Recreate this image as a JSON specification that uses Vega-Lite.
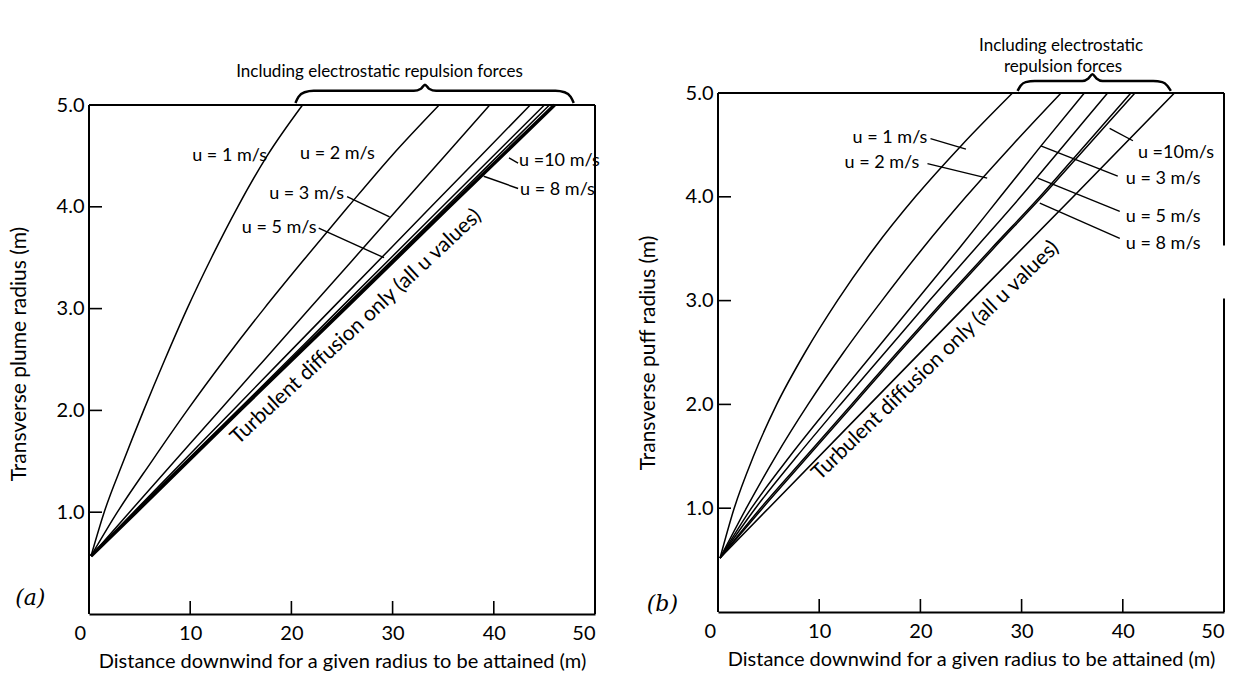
{
  "$schema": "https://vega.github.io/schema/vega-lite/v6.json",
  "padding": {"left": 8, "top": 37, "right": 5, "bottom": 0},
  "spacing": 123,
  "bounds": "flush",
  "config": {
    "view": {"stroke": null},
    "font": "Lato",
    "text": {"font": "Lato", "color": "black"},
    "axis": {
      "grid": false,
      "ticks": false,
      "labelFont": "Lato",
      "titleFont": "Lato",
      "labelColor": "black",
      "titleColor": "black",
      "domainColor": "black",
      "labelFontSize": 20,
      "titleFontSize": 20,
      "titleFontWeight": "normal",
      "domainWidth": 2
    }
  },
  "datasets": {
    "curvesA": [
      {"series": "u1", "x": 0.2, "y": 0.57}, {"series": "u1", "x": 1.5, "y": 1.0}, {"series": "u1", "x": 3.4, "y": 1.5}, {"series": "u1", "x": 5.4, "y": 2.0}, {"series": "u1", "x": 7.5, "y": 2.5}, {"series": "u1", "x": 9.7, "y": 3.0}, {"series": "u1", "x": 12.1, "y": 3.5}, {"series": "u1", "x": 14.7, "y": 4.0}, {"series": "u1", "x": 17.6, "y": 4.5}, {"series": "u1", "x": 21.1, "y": 5.0},
      {"series": "u2", "x": 0.2, "y": 0.57}, {"series": "u2", "x": 2.8, "y": 1.0}, {"series": "u2", "x": 6.2, "y": 1.5}, {"series": "u2", "x": 9.7, "y": 2.0}, {"series": "u2", "x": 13.4, "y": 2.5}, {"series": "u2", "x": 17.3, "y": 3.0}, {"series": "u2", "x": 21.4, "y": 3.5}, {"series": "u2", "x": 25.6, "y": 4.0}, {"series": "u2", "x": 29.9, "y": 4.5}, {"series": "u2", "x": 34.6, "y": 5.0},
      {"series": "u3", "x": 0.2, "y": 0.57}, {"series": "u3", "x": 4.0, "y": 1.0}, {"series": "u3", "x": 12.9, "y": 2.0}, {"series": "u3", "x": 21.8, "y": 3.0}, {"series": "u3", "x": 30.7, "y": 4.0}, {"series": "u3", "x": 39.6, "y": 5.0},
      {"series": "u5", "x": 0.2, "y": 0.57}, {"series": "u5", "x": 4.4, "y": 1.0}, {"series": "u5", "x": 14.2, "y": 2.0}, {"series": "u5", "x": 24.0, "y": 3.0}, {"series": "u5", "x": 33.8, "y": 4.0}, {"series": "u5", "x": 43.6, "y": 5.0},
      {"series": "u8", "x": 0.2, "y": 0.57}, {"series": "u8", "x": 4.5, "y": 1.0}, {"series": "u8", "x": 14.7, "y": 2.0}, {"series": "u8", "x": 24.8, "y": 3.0}, {"series": "u8", "x": 34.9, "y": 4.0}, {"series": "u8", "x": 45.0, "y": 5.0},
      {"series": "u10", "x": 0.2, "y": 0.57}, {"series": "u10", "x": 4.6, "y": 1.0}, {"series": "u10", "x": 14.8, "y": 2.0}, {"series": "u10", "x": 25.1, "y": 3.0}, {"series": "u10", "x": 35.3, "y": 4.0}, {"series": "u10", "x": 45.5, "y": 5.0},
      {"series": "turbulent", "x": 0.2, "y": 0.57}, {"series": "turbulent", "x": 4.65, "y": 1.0}, {"series": "turbulent", "x": 14.9, "y": 2.0}, {"series": "turbulent", "x": 25.3, "y": 3.0}, {"series": "turbulent", "x": 35.6, "y": 4.0}, {"series": "turbulent", "x": 46.0, "y": 5.0}
    ],
    "curvesB": [
      {"series": "u1", "x": 0.2, "y": 0.52}, {"series": "u1", "x": 1.6, "y": 1.0}, {"series": "u1", "x": 3.5, "y": 1.5}, {"series": "u1", "x": 5.8, "y": 2.0}, {"series": "u1", "x": 8.6, "y": 2.5}, {"series": "u1", "x": 11.8, "y": 3.0}, {"series": "u1", "x": 15.4, "y": 3.5}, {"series": "u1", "x": 19.5, "y": 4.0}, {"series": "u1", "x": 24.1, "y": 4.5}, {"series": "u1", "x": 29.1, "y": 5.0},
      {"series": "u2", "x": 0.2, "y": 0.52}, {"series": "u2", "x": 2.8, "y": 1.0}, {"series": "u2", "x": 5.7, "y": 1.5}, {"series": "u2", "x": 8.9, "y": 2.0}, {"series": "u2", "x": 12.4, "y": 2.5}, {"series": "u2", "x": 16.2, "y": 3.0}, {"series": "u2", "x": 20.2, "y": 3.5}, {"series": "u2", "x": 24.5, "y": 4.0}, {"series": "u2", "x": 29.1, "y": 4.5}, {"series": "u2", "x": 33.9, "y": 5.0},
      {"series": "u3", "x": 0.2, "y": 0.52}, {"series": "u3", "x": 3.3, "y": 1.0}, {"series": "u3", "x": 7.1, "y": 1.5}, {"series": "u3", "x": 11.2, "y": 2.0}, {"series": "u3", "x": 15.4, "y": 2.5}, {"series": "u3", "x": 19.6, "y": 3.0}, {"series": "u3", "x": 23.8, "y": 3.5}, {"series": "u3", "x": 27.9, "y": 4.0}, {"series": "u3", "x": 32.0, "y": 4.5}, {"series": "u3", "x": 36.2, "y": 5.0},
      {"series": "u5", "x": 0.2, "y": 0.52}, {"series": "u5", "x": 3.7, "y": 1.0}, {"series": "u5", "x": 7.8, "y": 1.5}, {"series": "u5", "x": 12.1, "y": 2.0}, {"series": "u5", "x": 16.5, "y": 2.5}, {"series": "u5", "x": 20.9, "y": 3.0}, {"series": "u5", "x": 25.4, "y": 3.5}, {"series": "u5", "x": 29.9, "y": 4.0}, {"series": "u5", "x": 34.2, "y": 4.5}, {"series": "u5", "x": 38.5, "y": 5.0},
      {"series": "u8", "x": 0.2, "y": 0.52}, {"series": "u8", "x": 4.2, "y": 1.0}, {"series": "u8", "x": 8.7, "y": 1.5}, {"series": "u8", "x": 13.2, "y": 2.0}, {"series": "u8", "x": 17.7, "y": 2.5}, {"series": "u8", "x": 22.3, "y": 3.0}, {"series": "u8", "x": 27.0, "y": 3.5}, {"series": "u8", "x": 31.8, "y": 4.0}, {"series": "u8", "x": 36.3, "y": 4.5}, {"series": "u8", "x": 40.8, "y": 5.0},
      {"series": "u10", "x": 0.2, "y": 0.52}, {"series": "u10", "x": 4.4, "y": 1.0}, {"series": "u10", "x": 8.9, "y": 1.5}, {"series": "u10", "x": 13.4, "y": 2.0}, {"series": "u10", "x": 17.9, "y": 2.5}, {"series": "u10", "x": 22.5, "y": 3.0}, {"series": "u10", "x": 27.2, "y": 3.5}, {"series": "u10", "x": 32.0, "y": 4.0}, {"series": "u10", "x": 36.6, "y": 4.5}, {"series": "u10", "x": 41.2, "y": 5.0},
      {"series": "turbulent", "x": 0.2, "y": 0.52}, {"series": "turbulent", "x": 5.0, "y": 1.0}, {"series": "turbulent", "x": 15.0, "y": 2.0}, {"series": "turbulent", "x": 25.0, "y": 3.0}, {"series": "turbulent", "x": 35.1, "y": 4.0}, {"series": "turbulent", "x": 45.1, "y": 5.0}
    ],
    "labelsA": [
      {"text": "u = 1 m/s", "x": 10.2, "y": 4.5},
      {"text": "u = 2 m/s", "x": 20.85, "y": 4.52},
      {"text": "u = 3 m/s", "x": 17.8, "y": 4.13},
      {"text": "u = 5 m/s", "x": 15.1, "y": 3.79},
      {"text": "u =10 m/s", "x": 42.5, "y": 4.45},
      {"text": "u = 8 m/s", "x": 42.6, "y": 4.17}
    ],
    "labelsB": [
      {"text": "u = 1 m/s", "x": 13.3, "y": 4.57},
      {"text": "u = 2 m/s", "x": 12.5, "y": 4.33},
      {"text": "u =10m/s", "x": 41.5, "y": 4.42},
      {"text": "u = 3 m/s", "x": 40.3, "y": 4.17},
      {"text": "u = 5 m/s", "x": 40.3, "y": 3.81},
      {"text": "u = 8 m/s", "x": 40.3, "y": 3.55}
    ],
    "pointersA": [
      {"x": 25.5, "y": 4.10, "x2": 29.7, "y2": 3.90},
      {"x": 22.7, "y": 3.79, "x2": 29.15, "y2": 3.50},
      {"x": 41.5, "y": 4.48, "x2": 42.4, "y2": 4.43},
      {"x": 39.0, "y": 4.30, "x2": 42.4, "y2": 4.18}
    ],
    "pointersB": [
      {"x": 21.0, "y": 4.56, "x2": 24.5, "y2": 4.46},
      {"x": 20.7, "y": 4.32, "x2": 26.6, "y2": 4.18},
      {"x": 38.7, "y": 4.66, "x2": 41.0, "y2": 4.54},
      {"x": 31.9, "y": 4.49, "x2": 39.5, "y2": 4.20},
      {"x": 31.6, "y": 4.18, "x2": 39.7, "y2": 3.86},
      {"x": 31.8, "y": 3.94, "x2": 39.7, "y2": 3.60}
    ],
    "braceA": [
      {"x": 20.4, "y": 5.02}, {"x": 20.7, "y": 5.08}, {"x": 21.3, "y": 5.125}, {"x": 22.2, "y": 5.14}, {"x": 32.1, "y": 5.14}, {"x": 32.8, "y": 5.16}, {"x": 33.2, "y": 5.2}, {"x": 33.6, "y": 5.16}, {"x": 34.3, "y": 5.14}, {"x": 46.1, "y": 5.14}, {"x": 47.0, "y": 5.125}, {"x": 47.6, "y": 5.08}, {"x": 47.9, "y": 5.02}
    ],
    "braceB": [
      {"x": 29.6, "y": 5.02}, {"x": 29.9, "y": 5.07}, {"x": 30.4, "y": 5.105}, {"x": 31.3, "y": 5.115}, {"x": 36.0, "y": 5.115}, {"x": 36.6, "y": 5.14}, {"x": 37.0, "y": 5.18}, {"x": 37.4, "y": 5.14}, {"x": 38.0, "y": 5.115}, {"x": 43.0, "y": 5.115}, {"x": 43.9, "y": 5.105}, {"x": 44.4, "y": 5.07}, {"x": 44.75, "y": 5.02}
    ],
    "frameA": [
      {"x": 0, "y": 0, "x2": 0, "y2": 5},
      {"x": 0, "y": 5, "x2": 50, "y2": 5},
      {"x": 50, "y": 0, "x2": 50, "y2": 5}
    ],
    "frameB": [
      {"x": 0, "y": 0, "x2": 0, "y2": 5},
      {"x": 0, "y": 5, "x2": 50, "y2": 5},
      {"x": 50, "y": 3.53, "x2": 50, "y2": 5},
      {"x": 50, "y": 0, "x2": 50, "y2": 3.02}
    ],
    "xticks": [{"x": 10, "y": 0}, {"x": 20, "y": 0}, {"x": 30, "y": 0}, {"x": 40, "y": 0}],
    "yticks": [{"x": 0, "y": 1}, {"x": 0, "y": 2}, {"x": 0, "y": 3}, {"x": 0, "y": 4}],
    "notesA": [
      {"text": "Including electrostatic repulsion forces", "x": 28.7, "y": 5.32}
    ],
    "notesB": [
      {"text": "Including electrostatic", "x": 33.9, "y": 5.45},
      {"text": "repulsion forces", "x": 34.1, "y": 5.25}
    ],
    "turbA": [{"text": "Turbulent diffusion only (all u values)", "x": 26.4, "y": 2.82}],
    "turbB": [{"text": "Turbulent diffusion only (all u values)", "x": 21.5, "y": 2.42}],
    "panelA": [{"text": "(a)", "x": -5.8, "y": 0.16}],
    "panelB": [{"text": "(b)", "x": -5.5, "y": 0.08}]
  },
  "hconcat": [
    {
      "width": 506,
      "height": 521,
      "encoding": {
        "x": {"field": "x", "type": "quantitative", "scale": {"domain": [0, 50], "nice": false, "zero": false},
          "axis": {"values": [0, 10, 20, 30, 40, 50], "format": "d", "labelPadding": 9, "titlePadding": 8,
            "labelOffset": {"condition": {"test": "datum.value == 0", "value": -15}, "value": 0},
            "title": "Distance downwind for a given radius to be attained (m)"}},
        "y": {"field": "y", "type": "quantitative", "scale": {"domain": [0, 5.118], "nice": false, "zero": false},
          "axis": {"values": [1, 2, 3, 4, 5], "format": ".1f", "domain": false, "labelPadding": 5, "titlePadding": 27, "titleFontSize": 21,
            "title": "Transverse plume radius (m)"}}
      },
      "layer": [
        {"data": {"name": "frameA"}, "mark": {"type": "rule", "strokeWidth": 2, "color": "black"},
          "encoding": {"x2": {"field": "x2"}, "y2": {"field": "y2"}}},
        {"data": {"name": "xticks"}, "mark": {"type": "tick", "orient": "vertical", "size": 13, "thickness": 1.6, "color": "black", "opacity": 1, "yOffset": -6.5},
          "encoding": {}},
        {"data": {"name": "yticks"}, "mark": {"type": "tick", "orient": "horizontal", "size": 13, "thickness": 1.6, "color": "black", "opacity": 1, "xOffset": 6.5},
          "encoding": {}},
        {"data": {"name": "curvesA"}, "transform": [{"filter": "datum.series != 'turbulent'"}],
          "mark": {"type": "line", "interpolate": "monotone", "strokeWidth": 1.5, "color": "black"},
          "encoding": {"detail": {"field": "series"}}},
        {"data": {"name": "curvesA"}, "transform": [{"filter": "datum.series == 'turbulent'"}],
          "mark": {"type": "line", "strokeWidth": 3.5, "color": "black"},
          "encoding": {"detail": {"field": "series"}}},
        {"data": {"name": "pointersA"}, "mark": {"type": "rule", "strokeWidth": 1.4, "color": "black"},
          "encoding": {"x2": {"field": "x2"}, "y2": {"field": "y2"}}},
        {"data": {"name": "braceA"}, "mark": {"type": "line", "interpolate": "monotone", "strokeWidth": 2.5, "color": "black"},
          "encoding": {}},
        {"data": {"name": "labelsA"}, "mark": {"type": "text", "align": "left", "baseline": "middle", "fontSize": 18},
          "encoding": {"text": {"field": "text"}}},
        {"data": {"name": "notesA"}, "mark": {"type": "text", "align": "center", "baseline": "middle", "fontSize": 17},
          "encoding": {"text": {"field": "text"}}},
        {"data": {"name": "turbA"}, "mark": {"type": "text", "align": "center", "baseline": "middle", "fontSize": 21, "angle": -43},
          "encoding": {"text": {"field": "text"}}},
        {"data": {"name": "panelA"}, "mark": {"type": "text", "align": "center", "baseline": "middle", "fontSize": 22, "font": "DejaVu Serif", "fontStyle": "italic"},
          "encoding": {"text": {"field": "text"}}}
      ]
    },
    {
      "width": 506,
      "height": 519,
      "encoding": {
        "x": {"field": "x", "type": "quantitative", "scale": {"domain": [0, 50], "nice": false, "zero": false},
          "axis": {"values": [0, 10, 20, 30, 40, 50], "format": "d", "labelPadding": 9, "titlePadding": 8,
            "labelOffset": {"condition": {"test": "datum.value == 0", "value": -14}, "value": 0},
            "title": "Distance downwind for a given radius to be attained (m)"}},
        "y": {"field": "y", "type": "quantitative", "scale": {"domain": [0, 5], "nice": false, "zero": false},
          "axis": {"values": [1, 2, 3, 4, 5], "format": ".1f", "domain": false, "labelPadding": 5, "titlePadding": 27, "titleFontSize": 21,
            "title": "Transverse puff radius (m)"}}
      },
      "layer": [
        {"data": {"name": "frameB"}, "mark": {"type": "rule", "strokeWidth": 2, "color": "black"},
          "encoding": {"x2": {"field": "x2"}, "y2": {"field": "y2"}}},
        {"data": {"name": "xticks"}, "mark": {"type": "tick", "orient": "vertical", "size": 13, "thickness": 1.6, "color": "black", "opacity": 1, "yOffset": -6.5},
          "encoding": {}},
        {"data": {"name": "yticks"}, "mark": {"type": "tick", "orient": "horizontal", "size": 13, "thickness": 1.6, "color": "black", "opacity": 1, "xOffset": 6.5},
          "encoding": {}},
        {"data": {"name": "curvesB"}, "transform": [{"filter": "datum.series != 'turbulent'"}],
          "mark": {"type": "line", "interpolate": "monotone", "strokeWidth": 1.5, "color": "black"},
          "encoding": {"detail": {"field": "series"}}},
        {"data": {"name": "curvesB"}, "transform": [{"filter": "datum.series == 'turbulent'"}],
          "mark": {"type": "line", "strokeWidth": 1.6, "color": "black"},
          "encoding": {"detail": {"field": "series"}}},
        {"data": {"name": "pointersB"}, "mark": {"type": "rule", "strokeWidth": 1.4, "color": "black"},
          "encoding": {"x2": {"field": "x2"}, "y2": {"field": "y2"}}},
        {"data": {"name": "braceB"}, "mark": {"type": "line", "interpolate": "monotone", "strokeWidth": 2.5, "color": "black"},
          "encoding": {}},
        {"data": {"name": "labelsB"}, "mark": {"type": "text", "align": "left", "baseline": "middle", "fontSize": 18},
          "encoding": {"text": {"field": "text"}}},
        {"data": {"name": "notesB"}, "mark": {"type": "text", "align": "center", "baseline": "middle", "fontSize": 17},
          "encoding": {"text": {"field": "text"}}},
        {"data": {"name": "turbB"}, "mark": {"type": "text", "align": "center", "baseline": "middle", "fontSize": 21, "angle": -44},
          "encoding": {"text": {"field": "text"}}},
        {"data": {"name": "panelB"}, "mark": {"type": "text", "align": "center", "baseline": "middle", "fontSize": 22, "font": "DejaVu Serif", "fontStyle": "italic"},
          "encoding": {"text": {"field": "text"}}}
      ]
    }
  ]
}
